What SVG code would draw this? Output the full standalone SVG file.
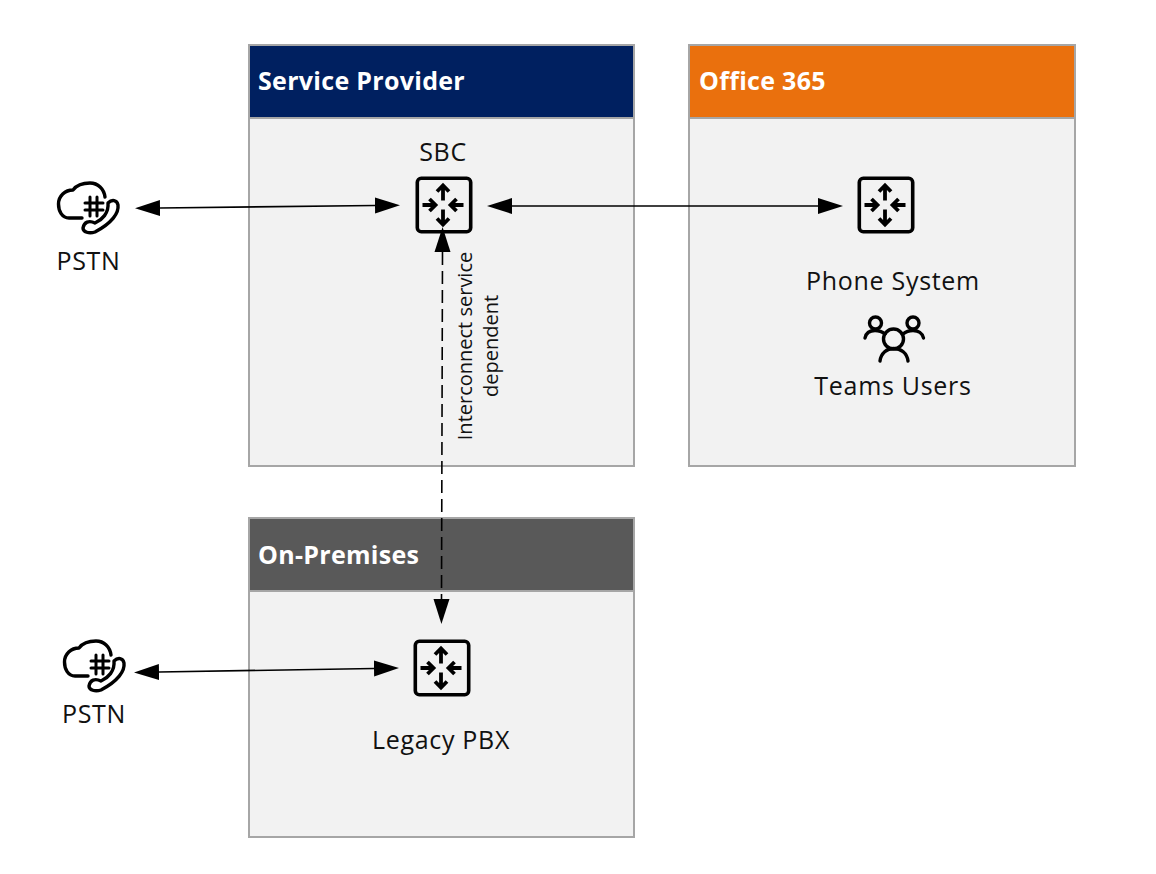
<svg xmlns="http://www.w3.org/2000/svg" width="1156" height="874" viewBox="0 0 1156 874">
<style>
text{font-family:"Open Sans","Noto Sans","Liberation Sans",sans-serif;fill:#111}
.lbl{font-size:25px;letter-spacing:.7px;text-anchor:middle}
.hd{font-size:25px;letter-spacing:.3px;font-weight:700;fill:#fff}
.panel{fill:#f2f2f2;stroke:#a6a6a6;stroke-width:2}
.ic{fill:none;stroke:#000;stroke-width:3.400;stroke-linecap:round;stroke-linejoin:round}
.cn{fill:none;stroke:#000;stroke-width:1.600;marker-start:url(#a);marker-end:url(#a)}
</style>
<defs>
<marker id="a" viewBox="0 0 25 18" refX="0" refY="9" markerWidth="25" markerHeight="18" markerUnits="userSpaceOnUse" orient="auto-start-reverse"><path d="M25 9 0 1V17Z" fill="#000"/></marker>
<g id="router">
<rect x="1.800" y="1.800" width="53.400" height="53.400" rx="4" fill="none" stroke="#000" stroke-width="3.600"/>
<g fill="none" stroke="#000" stroke-width="3.800"><path d="M27.500 24V10M21.500 15l6-6 6 6"/><path d="M27.500 33V47M21.500 42l6 6 6-6"/><path d="M7 28.500H19M14 22.500l6 6-6 6"/><path d="M48 28.500H36M41 22.500l-6 6 6 6"/></g>
</g>
<g id="phone" class="ic">
<path d="M22 35H9C2 35-1.500 28-1.500 21-1.500 13 5 7 13 7 16 3 22 0 30 0 38 0 44 6 45 14"/>
<path d="M30 14V33M37 14V33M25 20H43M25 27H43" stroke-width="3"/>
<path d="M48 20C52 16 57 17 58 22 59 30 52 40 35 49 29 51 23 49 23 45 24 39 29 37 35 40 42 37 49 30 48 20Z"/>
</g>
</defs>
<g id="service-provider"><rect class="panel" x="249" y="45" width="385" height="421"/><rect x="249" y="45" width="385" height="73" fill="#002060" stroke="#a6a6a6" stroke-width="2"/><text class="hd" x="258" y="90">Service Provider</text></g>
<g id="office-365"><rect class="panel" x="689" y="45" width="386" height="421"/><rect x="689" y="45" width="386" height="73" fill="#ea700d" stroke="#a6a6a6" stroke-width="2"/><text class="hd" x="699" y="90">Office 365</text></g>
<g id="on-premises"><rect class="panel" x="249" y="518" width="385" height="319"/><rect x="249" y="518" width="385" height="73" fill="#595959" stroke="#a6a6a6" stroke-width="2"/><text class="hd" x="258" y="564">On-Premises</text></g>
<g id="pstn-top"><use href="#phone" x="60" y="183"/><text class="lbl" x="88.500" y="270">PSTN</text></g>
<g id="pstn-bottom"><use href="#phone" x="66" y="641"/><text class="lbl" x="94" y="723">PSTN</text></g>
<g id="sbc"><text class="lbl" x="443" y="161">SBC</text><use href="#router" x="415.500" y="176.500"/></g>
<g id="phone-system"><use href="#router" x="857.500" y="176.500"/><text class="lbl" x="893" y="290">Phone System</text></g>
<g id="teams-users">
<g class="ic"><circle cx="875.500" cy="323" r="6"/><circle cx="913" cy="323" r="6"/><circle cx="893.500" cy="339" r="10"/><path d="M865 338C866 333 870 330.500 875 330.500 879 330.500 882 331.500 885 334M923.500 338C922.500 333 918 330.500 913 330.500 909 330.500 906 331.500 903 334M880 361C881 353 887 348.500 893.500 348.500 901 348.500 907 353 908 361"/></g>
<text class="lbl" x="893" y="395">Teams Users</text></g>
<g id="legacy-pbx"><use href="#router" x="413.500" y="639.500"/><text class="lbl" x="441" y="749">Legacy PBX</text></g>
<g id="connectors">
<path class="cn" d="M160 208 375 205.500"/>
<path class="cn" d="M512 206H818"/>
<path class="cn" stroke-dasharray="13 6" d="M442.500 252 441.500 599"/>
<path class="cn" d="M159 672 374 668.500"/>
</g>
<text id="interconnect-label" transform="translate(472 346) rotate(-90)" font-size="20" text-anchor="middle"><tspan x="0" y="0">Interconnect service</tspan><tspan x="0" y="26">dependent</tspan></text>
</svg>
